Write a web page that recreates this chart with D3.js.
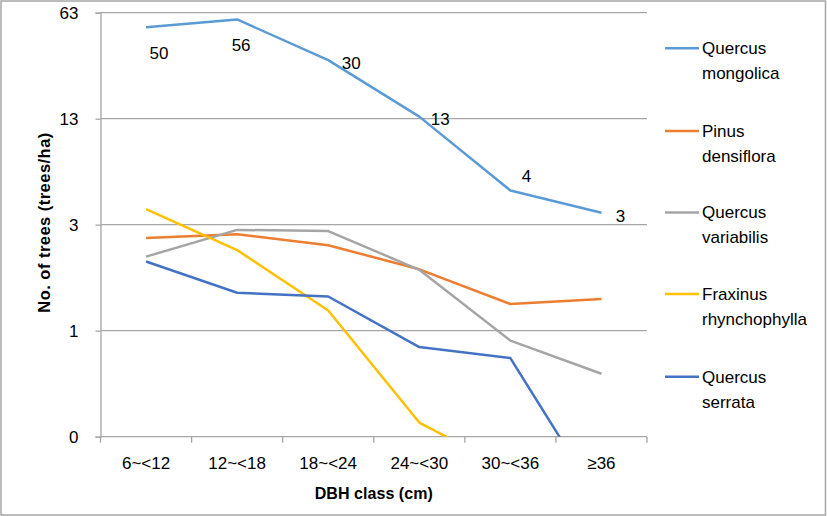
<!DOCTYPE html>
<html>
<head>
<meta charset="utf-8">
<script src="https://cdn.jsdelivr.net/npm/d3@7/dist/d3.min.js"></script>
<style>
html,body{margin:0;padding:0;background:#fff;}
svg{display:block;}
text{font-family:"Liberation Sans",Arial,sans-serif;fill:#000;}
</style>
</head>
<body>
<svg id="chart" width="827" height="516"></svg>
<script>
// ---- data ----
const categories = ["6~<12","12~<18","18~<24","24~<30","30~<36","≥36"];
const yTickValues = [0.1, 0.5, 2.5, 12.5, 62.5];
const yTickLabels = ["0","1","3","13","63"];
const seriesNames = ["Quercus mongolica","Pinus densiflora","Quercus variabilis","Fraxinus rhynchophylla","Quercus serrata"];
const quercusMongolica   = [50.1, 56.4, 30.4, 12.9, 4.2, 3.0];
const pinusDensiflora    = [2.04, 2.16, 1.83, 1.27, 0.75, 0.81];
const quercusVariabilis  = [1.54, 2.31, 2.27, 1.26, 0.43, 0.26];
const fraxinusRhyncho    = [3.17, 1.70, 0.68, 0.124, 0.06, null];
const quercusSerrata     = [1.43, 0.89, 0.84, 0.39, 0.33, 0.036];
const colors = ["#5B9BD5","#ED7D31","#A5A5A5","#FFC000","#4472C4"];

const allSeries = [quercusMongolica, pinusDensiflora, quercusVariabilis, fraxinusRhyncho, quercusSerrata];

// ---- layout ----
const svg = d3.select("#chart");
const W = 827, H = 516;
const plot = {left:100.5, right:647, top:12.7, bottom:436.7};

svg.append("rect").attr("x",1).attr("y",1).attr("width",W-2.5).attr("height",H-2)
  .attr("fill","#fff").attr("stroke","#a6a6a6").attr("stroke-width",1.5);

const x = d3.scaleBand().domain(categories).range([plot.left, plot.right]).paddingInner(0).paddingOuter(0);
const y = d3.scaleLog().base(5).domain([0.1, 62.5]).range([plot.bottom, plot.top]);

const gridColor = "#a6a6a6";

// gridlines
svg.append("g").selectAll("line").data(yTickValues.slice(1)).join("line")
  .attr("x1", plot.left).attr("x2", plot.right)
  .attr("y1", d=>y(d)).attr("y2", d=>y(d))
  .attr("stroke", gridColor).attr("stroke-width",1.3);

// y axis
const yAxis = d3.axisLeft(y).tickValues(yTickValues).tickFormat((d,i)=>yTickLabels[i]).tickSize(5).tickPadding(17);
const gy = svg.append("g").attr("transform",`translate(${plot.left},0)`).call(yAxis);
gy.select(".domain").attr("stroke",gridColor).attr("stroke-width",1.3);
gy.selectAll(".tick line").attr("stroke",gridColor).attr("stroke-width",1.3);
gy.selectAll(".tick text").attr("font-size",17).attr("font-family","Liberation Sans, Arial, sans-serif").attr("fill","#000");

// x axis with ticks between categories
const xAxisG = svg.append("g").attr("transform",`translate(0,${plot.bottom})`);
xAxisG.append("line").attr("x1",plot.left).attr("x2",plot.right).attr("y1",0).attr("y2",0)
  .attr("stroke",gridColor).attr("stroke-width",1.3);
const boundaries = categories.map(c=>x(c)).concat([x(categories[categories.length-1])+x.bandwidth()]);
xAxisG.selectAll("line.tk").data(boundaries).join("line").attr("class","tk")
  .attr("x1",d=>d).attr("x2",d=>d).attr("y1",0).attr("y2",6)
  .attr("stroke",gridColor).attr("stroke-width",1.3);
xAxisG.selectAll("text").data(categories).join("text")
  .attr("x",d=>x(d)+x.bandwidth()/2).attr("y",26)
  .attr("dy","0.35em").attr("text-anchor","middle").attr("font-size",17).text(d=>d);

// axis titles
svg.append("text").attr("x",plot.left+(plot.right-plot.left)/2).attr("y",493).attr("dy","0.35em")
  .attr("text-anchor","middle").attr("font-weight","bold").attr("font-size",16)
  .attr("textLength",118).attr("lengthAdjust","spacing").text("DBH class (cm)");
svg.append("text").attr("transform",`translate(44,${(plot.top+plot.bottom)/2 - 2}) rotate(-90)`)
  .attr("dy","0.35em").attr("text-anchor","middle").attr("font-weight","bold").attr("font-size",16.5)
  .attr("textLength",180).attr("lengthAdjust","spacing")
  .text("No. of trees (trees/ha)");

// clip
svg.append("clipPath").attr("id","clip").append("rect")
  .attr("x",plot.left).attr("y",0).attr("width",plot.right-plot.left+20).attr("height",plot.bottom);

const line = d3.line()
  .defined(d=>d.v!=null)
  .x(d=>x(d.c)+x.bandwidth()/2).y(d=>y(d.v));

const lg = svg.append("g").attr("clip-path","url(#clip)");
allSeries.forEach((s,i)=>{
  const pts = s.map((v,j)=>({c:categories[j], v}));
  lg.append("path").datum(pts).attr("d",line)
    .attr("fill","none").attr("stroke",colors[i]).attr("stroke-width",2.5).attr("stroke-linejoin","round");
});

// data labels for Quercus mongolica (offsets relative to point)
const labelOffsets = [[13,26],[4,26],[23,3],[21,2],[16,-14],[19,3]];
svg.append("g").selectAll("text").data(quercusMongolica).join("text")
  .attr("x",(d,j)=>x(categories[j])+x.bandwidth()/2+labelOffsets[j][0])
  .attr("y",(d,j)=>y(d)+labelOffsets[j][1])
  .attr("dy","0.35em").attr("text-anchor","middle").attr("font-size",17)
  .text(d=>d3.format(".0f")(d));

// legend
const legendY = [48.3,131,212.5,294,376.7];
const lgd = svg.append("g");
seriesNames.forEach((name,i)=>{
  const g = lgd.append("g").attr("transform",`translate(0,${legendY[i]})`);
  g.append("line").attr("x1",665).attr("x2",699).attr("y1",0).attr("y2",0)
    .attr("stroke",colors[i]).attr("stroke-width",2.5);
  const parts = name.split(" ");
  parts.forEach((p,k)=>{
    g.append("text").attr("x",702).attr("y",k*25).attr("dy","0.35em").attr("font-size",17).text(p);
  });
});
</script>
</body>
</html>
